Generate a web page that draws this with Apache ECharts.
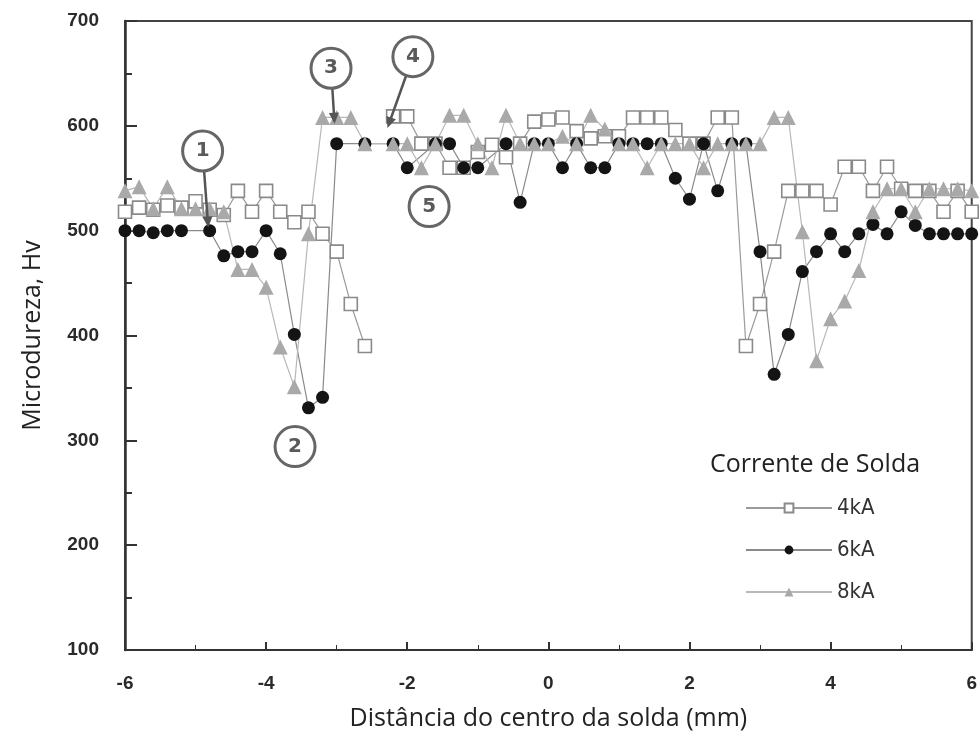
<!DOCTYPE html>
<html>
<head>
<meta charset="utf-8">
<script src="https://cdn.jsdelivr.net/npm/echarts@6/dist/echarts.min.js"></script>
<style>
  html, body { margin: 0; padding: 0; background: #fff; }
  #chart { width: 980px; height: 747px; }
</style>
</head>
<body>
<div id="chart"></div>
<script>
// distance from weld centre (mm)
const distances = [
  -6.0, -5.8, -5.6, -5.4, -5.2, -5.0, -4.8, -4.6, -4.4, -4.2,
  -4.0, -3.8, -3.6, -3.4, -3.2, -3.0, -2.8, -2.6, -2.4, -2.2,
  -2.0, -1.8, -1.6, -1.4, -1.2, -1.0, -0.8, -0.6, -0.4, -0.2,
  0.0, 0.2, 0.4, 0.6, 0.8, 1.0, 1.2, 1.4, 1.6, 1.8,
  2.0, 2.2, 2.4, 2.6, 2.8, 3.0, 3.2, 3.4, 3.6, 3.8,
  4.0, 4.2, 4.4, 4.6, 4.8, 5.0, 5.2, 5.4, 5.6, 5.8, 6.0
]

// microdureza (Hv) por corrente
const hv4kA = [
  518, 522, 520, 524, 522, 528, 520, 515, 538, 518,
  538, 518, 508, 518, 497, 480, 430, 390, null, 609,
  609, 583, 583, 560, 560, 575, 582, 570, 583, 604,
  606, 608, 595, 588, 590, 590, 608, 608, 608, 596,
  583, 583, 608, 608, 390, 430, 480, 538, 538, 538,
  525, 561, 561, 538, 561, 540, 538, 538, 518, 538, 518
]
const hv6kA = [
  500, 500, 498, 500, 500, null, 500, 476, 480, 480,
  500, 478, 401, 331, 341, 583, null, 583, null, 583,
  560, null, 583, 583, 560, 560, null, 583, 527, 583,
  583, 560, 583, 560, 560, 583, 583, 583, 583, 550,
  530, 583, 538, 583, 583, 480, 363, 401, 461, 480,
  497, 480, 497, 506, 497, 518, 505, 497, 497, 497, 497
]
const hv8kA = [
  538, 542, 521, 542, 521, 521, 521, 518, 463, 463,
  446, 389, 351, 497, 608, 608, 608, 583, null, 583,
  583, 560, 583, 610, 610, 583, 560, 610, 583, 583,
  583, 590, 583, 610, 597, 583, 583, 560, 583, 583,
  583, 560, 583, 583, 583, 583, 608, 608, 499, 376,
  416, 433, 462, 518, 540, 540, 518, 540, 540, 540, 538
]

// marcadores circulados (posição em coordenadas de dados)
const noteLabels = ['1', '2', '3', '4', '5']
const notePos = [[-4.9, 576], [-3.59, 294], [-3.08, 655], [-1.92, 666], [-1.69, 523]]
const noteArrowTo = [[-4.82, 503], null, [-3.03, 602], [-2.28, 598], null]

const toPairs = vals => distances.map((x, i) => [x, vals[i] == null ? '-' : vals[i]])

const chart = echarts.init(document.getElementById('chart'))

const tickFont = { color: '#2a2a2a', fontSize: 19, fontWeight: 'bold', fontFamily: 'Liberation Sans, Arial, sans-serif' }

chart.setOption({
  animation: false,
  grid: { left: 125, right: 6, top: 21, bottom: 97, show: true, borderColor: '#444', borderWidth: 2 },
  legend: {
    orient: 'vertical',
    left: 740,
    top: 492,
    itemWidth: 86,
    itemHeight: 11,
    itemGap: 20,
    textStyle: { fontFamily: 'DejaVu Sans Condensed, sans-serif', fontSize: 22, color: '#333' },
    data: ['4kA', '6kA', '8kA']
  },
  xAxis: {
    type: 'value',
    min: -6,
    max: 6,
    interval: 2,
    name: 'Distância do centro da solda (mm)',
    nameLocation: 'middle',
    nameGap: 56,
    nameTextStyle: { fontFamily: 'Open Sans, Noto Sans, sans-serif', fontSize: 25, color: '#222' },
    axisLine: { onZero: false, lineStyle: { color: '#333', width: 2 } },
    axisTick: { inside: true, length: 8, lineStyle: { color: '#333', width: 2 } },
    minorTick: { show: true, splitNumber: 2, length: 5, lineStyle: { color: '#333' } },
    axisLabel: Object.assign({ margin: 24 }, tickFont),
    splitLine: { show: false }
  },
  yAxis: {
    type: 'value',
    min: 100,
    max: 700,
    interval: 100,
    name: 'Microdureza, Hv',
    nameLocation: 'middle',
    nameGap: 80,
    nameTextStyle: { fontFamily: 'Open Sans, Noto Sans, sans-serif', fontSize: 25, color: '#222' },
    axisLine: { onZero: false, lineStyle: { color: '#333', width: 2.5 } },
    axisTick: { inside: true, length: 12, lineStyle: { color: '#333', width: 2 } },
    minorTick: { show: true, splitNumber: 2, length: 7, lineStyle: { color: '#333', width: 2 } },
    axisLabel: Object.assign({ margin: 26 }, tickFont),
    splitLine: { show: false }
  },
  series: [
    {
      name: '4kA',
      type: 'line',
      data: toPairs(hv4kA),
      connectNulls: false,
      symbol: 'rect',
      symbolSize: 13,
      lineStyle: { color: '#9a9a9a', width: 1.2 },
      itemStyle: { color: '#fff', borderColor: '#8a8a8a', borderWidth: 1.6 }
    },
    {
      name: '6kA',
      type: 'line',
      data: toPairs(hv6kA),
      connectNulls: true,
      symbol: 'circle',
      symbolSize: 13,
      lineStyle: { color: '#8a8a8a', width: 1.2 },
      itemStyle: { color: '#141414' }
    },
    {
      name: '8kA',
      type: 'line',
      data: toPairs(hv8kA),
      connectNulls: true,
      symbol: 'triangle',
      symbolSize: 15,
      lineStyle: { color: '#b8b8b8', width: 1.2 },
      itemStyle: { color: '#a9a9a9' }
    }
  ]
})

// anotações: círculos numerados e setas
const R = 20
const elements = [{
  type: 'text',
  left: 710,
  top: 452,
  style: { text: 'Corrente de Solda', fontFamily: 'Open Sans, Noto Sans, sans-serif', fontSize: 25, fill: '#222' }
}]
noteLabels.forEach((lab, i) => {
  const c = chart.convertToPixel({ gridIndex: 0 }, notePos[i])
  const tip = noteArrowTo[i]
  if (tip) {
    const t = chart.convertToPixel({ gridIndex: 0 }, tip)
    const ang = Math.atan2(t[1] - c[1], t[0] - c[0])
    const ux = Math.cos(ang), uy = Math.sin(ang)
    const head = 11
    elements.push({
      type: 'line',
      shape: { x1: c[0] + ux * R, y1: c[1] + uy * R, x2: t[0] - ux * head * 0.6, y2: t[1] - uy * head * 0.6 },
      style: { stroke: '#555', lineWidth: 2.5 },
      z: 10
    })
    elements.push({
      type: 'polygon',
      shape: {
        points: [
          [t[0], t[1]],
          [t[0] - ux * head - uy * 5, t[1] - uy * head + ux * 5],
          [t[0] - ux * head + uy * 5, t[1] - uy * head - ux * 5]
        ]
      },
      style: { fill: '#555' },
      z: 10
    })
  }
  elements.push({
    type: 'circle',
    shape: { cx: c[0], cy: c[1], r: R },
    style: { fill: '#fff', stroke: '#666', lineWidth: 3 },
    z: 11
  })
  elements.push({
    type: 'text',
    x: c[0],
    y: c[1],
    style: {
      text: lab, align: 'center', verticalAlign: 'middle',
      fontFamily: 'DejaVu Sans, sans-serif', fontSize: 20, fontWeight: 'bold', fill: '#5a5a5a'
    },
    z: 12
  })
})
chart.setOption({ graphic: { elements } })
</script>
</body>
</html>
